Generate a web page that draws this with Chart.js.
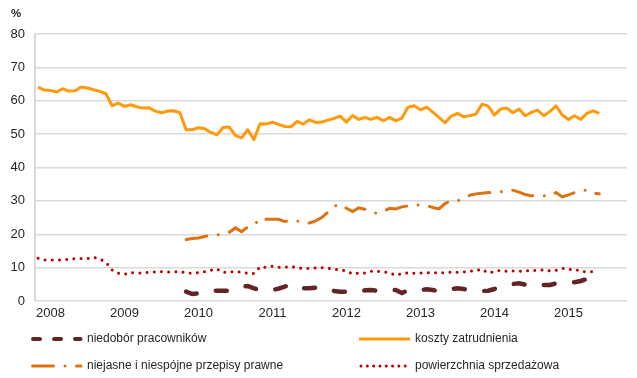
<!DOCTYPE html>
<html>
<head>
<meta charset="utf-8">
<script src="https://cdn.jsdelivr.net/npm/chart.js@4/dist/chart.umd.min.js"></script>
<style>
  html, body { margin: 0; padding: 0; background: #ffffff; }
  #chart { display: block; }
</style>
</head>
<body>
<canvas id="chart" width="637" height="378"></canvas>
<script>
// Monthly survey series, Nov 2007 - Jun 2015 (axis runs to Oct 2015)
const years = [2008, 2009, 2010, 2011, 2012, 2013, 2014, 2015];
const firstYear = 2007;
const firstMonth = 11;
const monthCount = 96;

const koszty = [
    64.1, 63.2, 63.1, 62.6, 63.6, 62.9, 63.0, 64.1, 63.8, 63.3, 62.8, 62.1,
    58.5, 59.3, 58.3, 58.8, 58.2, 57.8, 57.9, 56.9, 56.4, 56.9, 57.0, 56.4,
    51.3, 51.3, 51.9, 51.6, 50.5, 49.8, 52.0, 52.1, 49.6, 48.9, 51.3, 48.3,
    53.1, 53.0, 53.6, 52.9, 52.3, 52.2, 53.8, 53.0, 54.3, 53.5, 53.6, 54.2,
    54.7, 55.4, 53.6, 55.6, 54.4, 55.0, 54.4, 55.0, 54.0, 55.0, 54.0, 54.8,
    58.1, 58.5, 57.3, 58.1, 56.6, 55.0, 53.4, 55.4, 56.2, 55.2, 55.5, 56.0,
    59.0, 58.4, 55.7, 57.5, 57.8, 56.4, 57.5, 55.5, 56.5, 57.2, 55.5, 56.8,
    58.5, 55.7, 54.4, 55.5, 54.4, 56.2, 57.0, 56.2
];

const powierzchnia = [
    12.8, 12.3, 12.3, 12.3, 12.3, 12.5, 12.7, 12.7, 12.7, 13.1, 12.6, 11.6,
    9.3, 8.3, 8.0, 8.5, 8.4, 8.4, 8.6, 8.7, 8.8, 8.7, 8.7, 8.8,
    8.4, 8.3, 8.5, 8.8, 9.2, 9.6, 8.5, 8.8, 8.8, 8.6, 8.3, 8.2,
    10.2, 10.1, 10.4, 10.1, 10.1, 10.3, 10.0, 9.7, 9.8, 9.9, 10.0, 9.8,
    9.5, 9.3, 9.0, 8.1, 8.4, 8.4, 8.9, 8.9, 8.7, 8.4, 7.7, 8.2,
    8.4, 8.3, 8.4, 8.4, 8.5, 8.5, 8.5, 8.6, 8.6, 8.7, 8.9, 9.1,
    9.5, 8.4, 8.8, 9.2, 8.9, 9.0, 8.9, 9.0, 9.1, 9.2, 9.3, 9.0,
    9.2, 9.8, 9.4, 9.5, 8.9, 8.7, 8.8
];

// these two start in Nov 2009
const lateStart = 24;
const niedobor = [
    2.8, 2.1, 2.3, 2.9, 3.0, 3.1, 3.1, 3.0, 3.6, 4.3, 4.5, 3.8,
    3.3, 3.2, 3.3, 3.7, 4.3, 5.0, 4.0, 3.8, 3.8, 4.0, 4.2, 3.6,
    3.0, 2.8, 2.8, 2.8, 3.0, 3.2, 3.3, 3.1, 3.2, 3.3, 3.3, 2.4,
    3.2, 3.5, 3.3, 3.5, 3.3, 2.9, 3.3, 3.6, 3.8, 3.6, 3.3, 3.2,
    3.0, 3.1, 3.6, 4.2, 4.6, 5.1, 5.3, 4.9, 4.4, 4.6, 4.8, 4.8,
    5.3, 5.5, 5.6, 5.6, 6.0, 6.6, 7.1, 7.2
];

const niejasne = [
    18.4, 18.7, 18.9, 19.3, 19.7, 19.8, 20.0, 20.6, 21.9, 20.8, 22.2, 22.7,
    24.8, 24.5, 24.5, 24.5, 23.8, 24.1, 24.0, 23.3, 23.4, 24.0, 25.0, 26.6,
    28.4, 29.0, 27.8, 26.8, 27.9, 27.5, 26.8, 26.2, 26.8, 27.8, 27.6, 28.2,
    28.5, 28.7, 28.8, 28.6, 28.0, 27.6, 29.2, 30.1, 30.0, 30.8, 31.7, 32.1,
    32.3, 32.5, 32.5, 32.7, 33.1, 33.2, 32.6, 31.9, 31.5, 31.5, 31.5, 31.5,
    32.5, 31.2, 31.8, 32.5, 33.1, 33.2, 32.3, 32.1
];

const seriesNames = [
    'niedobór pracowników',
    'koszty zatrudnienia',
    'niejasne i niespójne przepisy prawne',
    'powierzchnia sprzedażowa'
];

const colors = {
    niedobor: '#632523',
    koszty: '#FF9A0D',
    niejasne: '#DD7212',
    powierzchnia: '#C00000',
    grid: '#D9D9D9',
    text: '#262626'
};

const FONT = '"Liberation Sans", Arial, sans-serif';

// month labels "MM.YYYY"
const monthLabels = [];
for (let i = 0; i < monthCount; i++) {
    const m = (firstMonth - 1 + i) % 12 + 1;
    const y = firstYear + Math.floor((firstMonth - 1 + i) / 12);
    monthLabels.push(String(m).padStart(2, '0') + '.' + y);
}

const padLate = arr => new Array(lateStart).fill(null).concat(arr);

// "%" unit above the value axis
const unitLabel = {
    id: 'unitLabel',
    afterDraw(chart) {
        const ctx = chart.ctx;
        ctx.save();
        ctx.font = 'bold 11.5px ' + FONT;
        ctx.fillStyle = colors.text;
        ctx.textBaseline = 'middle';
        ctx.textAlign = 'left';
        ctx.fillText('%', 11, 14);
        ctx.restore();
    }
};

// two-column legend under the axis
const bottomLegend = {
    id: 'bottomLegend',
    afterDraw(chart) {
        const ctx = chart.ctx;
        const row1 = 339, row2 = 366;
        const colA = 31, colB = 359;
        const textA = 87, textB = 415;
        ctx.save();
        ctx.lineCap = 'round';

        // niedobór - three short dashes
        ctx.strokeStyle = colors.niedobor;
        ctx.lineWidth = 4;
        ctx.setLineDash([7, 14]);
        ctx.beginPath();
        ctx.moveTo(colA + 2, row1);
        ctx.lineTo(colA + 49.5, row1);
        ctx.stroke();

        // niejasne - dash, dot, dash
        ctx.strokeStyle = colors.niejasne;
        ctx.lineWidth = 3;
        ctx.setLineDash([21, 11.5, 0.01, 11.5]);
        ctx.beginPath();
        ctx.moveTo(colA + 1.5, row2);
        ctx.lineTo(colA + 50, row2);
        ctx.stroke();

        // koszty - solid
        ctx.setLineDash([]);
        ctx.lineCap = 'butt';
        ctx.strokeStyle = colors.koszty;
        ctx.lineWidth = 3;
        ctx.beginPath();
        ctx.moveTo(colB, row1);
        ctx.lineTo(colB + 51, row1);
        ctx.stroke();

        // powierzchnia - dots
        ctx.lineCap = 'round';
        ctx.strokeStyle = colors.powierzchnia;
        ctx.lineWidth = 3;
        ctx.setLineDash([0.01, 6.3]);
        ctx.beginPath();
        ctx.moveTo(colB + 2, row2);
        ctx.lineTo(colB + 47, row2);
        ctx.stroke();

        ctx.setLineDash([]);
        ctx.font = '12px ' + FONT;
        ctx.fillStyle = colors.text;
        ctx.textBaseline = 'middle';
        ctx.textAlign = 'left';
        ctx.fillText(seriesNames[0], textA, row1);
        ctx.fillText(seriesNames[1], textB, row1);
        ctx.fillText(seriesNames[2], textA, row2);
        ctx.fillText(seriesNames[3], textB, row2);
        ctx.restore();
    }
};

new Chart(document.getElementById('chart'), {
    type: 'line',
    data: {
        labels: monthLabels,
        datasets: [
            {
                label: seriesNames[0],
                data: padLate(niedobor),
                borderColor: colors.niedobor,
                borderWidth: 4.5,
                borderCapStyle: 'round',
                borderDash: [11, 19.5]
            },
            {
                label: seriesNames[1],
                data: koszty,
                borderColor: colors.koszty,
                borderWidth: 3,
                borderJoinStyle: 'round'
            },
            {
                label: seriesNames[2],
                data: padLate(niejasne),
                borderColor: colors.niejasne,
                borderWidth: 3,
                borderCapStyle: 'round',
                borderDash: [21, 11.5, 0.01, 11.5]
            },
            {
                label: seriesNames[3],
                data: powierzchnia,
                borderColor: colors.powierzchnia,
                borderWidth: 3,
                borderCapStyle: 'round',
                borderDash: [0.01, 7.2]
            }
        ]
    },
    options: {
        responsive: false,
        animation: false,
        layout: { padding: { left: 0, right: 10, top: 34, bottom: 0 } },
        elements: {
            point: { radius: 0, hoverRadius: 0 },
            line: { tension: 0, fill: false }
        },
        plugins: {
            legend: { display: false },
            tooltip: { enabled: false }
        },
        scales: {
            x: {
                type: 'category',
                offset: true,
                grid: { display: false, drawTicks: false },
                border: { display: false },
                ticks: {
                    autoSkip: false,
                    maxRotation: 0,
                    padding: 5,
                    color: colors.text,
                    font: { family: FONT, size: 13 },
                    callback: function (value) {
                        const l = this.getLabelForValue(value);
                        return l.startsWith('01.') ? l.slice(3) : '';
                    }
                },
                afterFit: s => { s.height = 77; }
            },
            y: {
                min: 0,
                max: 80,
                ticks: {
                    stepSize: 10,
                    padding: 10,
                    color: colors.text,
                    font: { family: FONT, size: 13 }
                },
                grid: { color: colors.grid, lineWidth: 1.5, drawTicks: false },
                border: { display: true, color: colors.grid, width: 2 },
                afterFit: s => { s.width = 35; }
            }
        }
    },
    plugins: [unitLabel, bottomLegend]
});
</script>
</body>
</html>
